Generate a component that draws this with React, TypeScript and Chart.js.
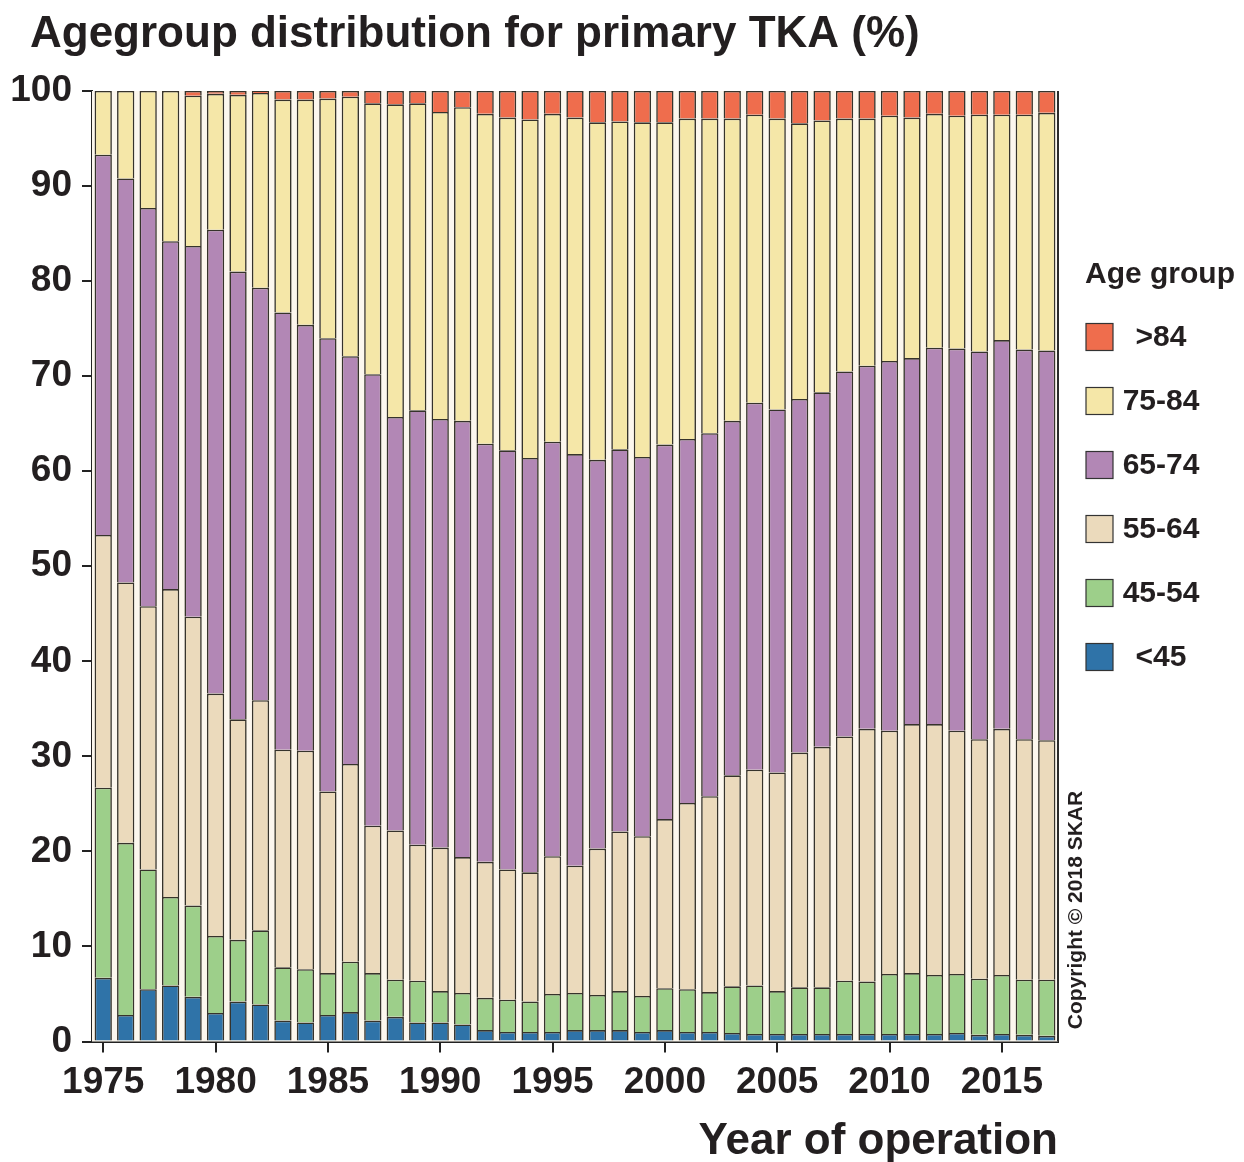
import React, { useEffect, useRef } from 'react';
import { Chart, registerables } from 'chart.js';

Chart.register(...registerables);

const years = [
  '1975', '1976', '1977', '1978', '1979', '1980', '1981', '1982', '1983', '1984',
  '1985', '1986', '1987', '1988', '1989', '1990', '1991', '1992', '1993', '1994',
  '1995', '1996', '1997', '1998', '1999', '2000', '2001', '2002', '2003', '2004',
  '2005', '2006', '2007', '2008', '2009', '2010', '2011', '2012', '2013', '2014',
  '2015', '2016', '2017',
];

const xTickYears = ['1975', '1980', '1985', '1990', '1995', '2000', '2005', '2010', '2015'];

const under45 = [
  6.7, 2.8, 5.5, 5.9, 4.7, 3.0, 4.2, 3.9, 2.2, 2.0,
  2.8, 3.1, 2.2, 2.6, 2.0, 2.0, 1.8, 1.2, 1.0, 1.0,
  1.0, 1.2, 1.2, 1.2, 1.0, 1.2, 1.0, 1.0, 0.9, 0.8,
  0.8, 0.8, 0.8, 0.8, 0.8, 0.8, 0.8, 0.8, 0.9, 0.7,
  0.8, 0.7, 0.6,
];
const age45to54 = [
  20.0, 18.1, 12.6, 9.3, 9.6, 8.1, 6.5, 7.8, 5.6, 5.6,
  4.4, 5.3, 5.0, 3.9, 4.4, 3.3, 3.3, 3.4, 3.4, 3.2,
  4.0, 3.9, 3.7, 4.1, 3.8, 4.4, 4.5, 4.2, 4.9, 5.1,
  4.5, 4.9, 4.9, 5.6, 5.5, 6.3, 6.4, 6.2, 6.2, 5.9,
  6.2, 5.8, 5.9,
];
const age55to64 = [
  26.6, 27.4, 27.7, 32.4, 30.4, 25.5, 23.2, 24.2, 22.9, 23.0,
  19.1, 20.8, 15.5, 15.7, 14.3, 15.1, 14.3, 14.3, 13.7, 13.6,
  14.5, 13.4, 15.4, 16.8, 16.8, 17.8, 19.6, 20.6, 22.2, 22.7,
  23.0, 24.7, 25.3, 25.7, 26.6, 25.6, 26.2, 26.4, 25.6, 25.2,
  25.9, 25.3, 25.2,
];
const age65to74 = [
  40.0, 42.5, 41.9, 36.6, 39.0, 48.8, 47.1, 43.4, 46.0, 44.8,
  47.7, 42.9, 47.5, 43.5, 45.7, 45.1, 45.9, 44.0, 44.1, 43.6,
  43.6, 43.3, 40.9, 40.2, 39.9, 39.4, 38.3, 38.2, 37.3, 38.6,
  38.2, 37.2, 37.3, 38.4, 38.2, 38.9, 38.5, 39.6, 40.2, 40.8,
  40.9, 41.0, 41.0,
];
const age75to84 = [
  6.7, 9.2, 12.3, 15.8, 15.8, 14.3, 18.6, 20.5, 22.4, 23.7,
  25.2, 27.3, 28.5, 32.9, 32.3, 32.3, 33.0, 34.7, 35.0, 35.6,
  34.5, 35.4, 35.5, 34.5, 35.2, 33.9, 33.7, 33.1, 31.8, 30.3,
  30.6, 29.0, 28.6, 26.6, 26.0, 25.8, 25.3, 24.6, 24.5, 24.9,
  23.7, 24.7, 25.0,
];
const over84 = [
  0.0, 0.0, 0.0, 0.0, 0.5, 0.3, 0.4, 0.2, 0.9, 0.9,
  0.8, 0.6, 1.3, 1.4, 1.3, 2.2, 1.7, 2.4, 2.8, 3.0,
  2.4, 2.8, 3.3, 3.2, 3.3, 3.3, 2.9, 2.9, 2.9, 2.5,
  2.9, 3.4, 3.1, 2.9, 2.9, 2.6, 2.8, 2.4, 2.6, 2.5,
  2.5, 2.5, 2.3,
];

const seriesLabels = ['<45', '45-54', '55-64', '65-74', '75-84', '>84'];
const seriesColors = ['#2f73a8', '#9dcf8a', '#ebdabc', '#b287b5', '#f5e7a8', '#ef6d4d'];

const chartTitle = 'Agegroup distribution for primary TKA (%)';
const legendTitle = 'Age group';
const xAxisTitle = 'Year of operation';
const copyrightText = 'Copyright © 2018 SKAR';

const TEXT = '#231f20';
const FONT = '"Liberation Sans", Arial, Helvetica, sans-serif';

const backgroundPlugin = {
  id: 'plotBackground',
  beforeDatasetsDraw(chart: any) {
    const { ctx, chartArea } = chart;
    ctx.save();
    ctx.fillStyle = '#fcf7ee';
    ctx.fillRect(chartArea.left, chartArea.top, chartArea.right - chartArea.left, chartArea.bottom - chartArea.top);
    ctx.restore();
  },
  afterDatasetsDraw(chart: any) {
    const { ctx, chartArea } = chart;
    ctx.save();
    ctx.strokeStyle = '#2b2b2b';
    ctx.lineWidth = 2;
    ctx.beginPath();
    ctx.moveTo(chartArea.right, chartArea.top);
    ctx.lineTo(chartArea.right, chartArea.bottom);
    ctx.stroke();
    ctx.restore();
  },
};

const textPlugin = {
  id: 'ageTexts',
  afterDraw(chart: any) {
    const { ctx } = chart;
    ctx.save();
    // chart title
    ctx.fillStyle = TEXT;
    ctx.font = `bold 44px ${FONT}`;
    ctx.textAlign = 'left';
    ctx.textBaseline = 'alphabetic';
    ctx.fillText(chartTitle, 30, 47);
    // legend
    ctx.font = `bold 30px ${FONT}`;
    ctx.fillText(legendTitle, 1085, 283);
    const ds = chart.data.datasets;
    for (let k = 0; k < ds.length; k++) {
      const d = ds[ds.length - 1 - k];
      const cy = 337 + k * 64;
      ctx.fillStyle = d.backgroundColor;
      ctx.fillRect(1086, cy - 13.5, 27, 27);
      ctx.strokeStyle = '#333';
      ctx.lineWidth = 1.2;
      ctx.strokeRect(1086, cy - 13.5, 27, 27);
      ctx.fillStyle = TEXT;
      ctx.font = `bold 30px ${FONT}`;
      ctx.textAlign = 'center';
      ctx.textBaseline = 'middle';
      ctx.fillText(d.label, 1161, cy + 1);
    }
    // copyright, rotated
    ctx.translate(1076, 910);
    ctx.rotate(-Math.PI / 2);
    ctx.font = `bold 21px ${FONT}`;
    ctx.textAlign = 'center';
    ctx.textBaseline = 'middle';
    ctx.fillStyle = TEXT;
    ctx.fillText(copyrightText, 0, 0);
    ctx.restore();
  },
};

export default function App() {
  const canvasRef = useRef<HTMLCanvasElement | null>(null);

  useEffect(() => {
    const canvas = canvasRef.current;
    if (!canvas) return;
    const seriesData = [under45, age45to54, age55to64, age65to74, age75to84, over84];
    const chart = new Chart(canvas, {
      type: 'bar',
      data: {
        labels: years,
        datasets: seriesData.map((vals, i) => ({
          label: seriesLabels[i],
          data: vals,
          backgroundColor: seriesColors[i],
          borderColor: '#36332b',
          borderWidth: 1.6,
          borderSkipped: 'start',
          barPercentage: 0.77,
          categoryPercentage: 1.0,
        })),
      },
      options: {
        responsive: false,
        animation: false,
        devicePixelRatio: 1,
        layout: { padding: { left: 0, right: 186, top: 91, bottom: 0 } },
        plugins: {
          legend: { display: false },
          tooltip: { enabled: false },
          title: { display: false },
        },
        scales: {
          x: {
            stacked: true,
            offset: true,
            grid: {
              display: true,
              drawOnChartArea: false,
              drawTicks: true,
              tickLength: 11,
              offset: false,
              lineWidth: 2,
              color: (c: any) => (xTickYears.includes(years[c.index]) ? '#222' : 'rgba(0,0,0,0)'),
            },
            border: { display: true, color: '#222', width: 2 },
            ticks: {
              autoSkip: false,
              maxRotation: 0,
              minRotation: 0,
              padding: 8,
              color: TEXT,
              font: { family: FONT, size: 37, weight: 'bold', lineHeight: 1.2 },
              callback: (_v: any, idx: number) => (xTickYears.includes(years[idx]) ? years[idx] : ''),
            },
            title: {
              display: true,
              text: xAxisTitle,
              align: 'end',
              color: TEXT,
              font: { family: FONT, size: 44, weight: 'bold', lineHeight: 0.92 },
              padding: { top: 0, bottom: 0 },
            },
            afterFit: (scale: any) => {
              scale.height = 120.5;
            },
          },
          y: {
            stacked: true,
            min: 0,
            max: 100,
            grid: {
              display: true,
              drawOnChartArea: false,
              drawTicks: true,
              tickLength: 10,
              lineWidth: 2,
              color: '#222',
            },
            border: { display: true, color: '#222', width: 2 },
            ticks: {
              stepSize: 10,
              padding: 10,
              color: TEXT,
              font: { family: FONT, size: 37, weight: 'bold', lineHeight: 1.2 },
            },
            afterFit: (scale: any) => {
              scale.width = 92;
            },
          },
        },
      },
      plugins: [backgroundPlugin, textPlugin],
    });
    return () => chart.destroy();
  }, []);

  return (
    <div style={{ position: 'absolute', left: 0, top: 0, width: 1244, height: 1162, background: '#fff' }}>
      <canvas ref={canvasRef} width={1244} height={1162} style={{ width: 1244, height: 1162, display: 'block' }} />
    </div>
  );
}
